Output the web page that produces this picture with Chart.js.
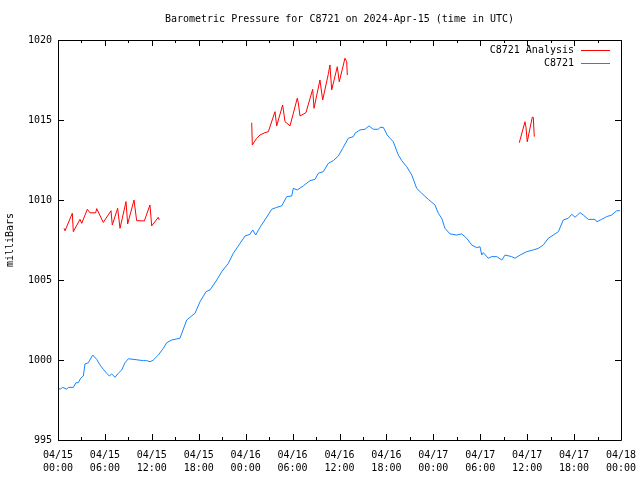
<!DOCTYPE html>
<html>
<head>
<meta charset="utf-8">
<script src="https://cdn.jsdelivr.net/npm/chart.js@4/dist/chart.umd.min.js"></script>
<style>
    html, body { margin: 0; padding: 0; background: #fff; }
    #wrap { width: 640px; height: 480px; }
</style>
</head>
<body>
<div id="wrap"><canvas id="pressureChart"></canvas></div>
<script>
// hours since 04/15 00:00 UTC
const stationHours = [0, 0.26, 0.6, 1.11, 1.32, 1.96, 2.3, 2.6, 2.9, 3.24, 3.45, 3.88, 4.44, 4.95, 5.37, 5.79,
    6.23, 6.56, 6.87, 7.29, 7.71, 8.15, 8.57, 9.0, 10.91, 11.34, 11.77, 12.19, 12.83, 13.47, 13.9, 14.54,
    15.6, 16.46, 17.52, 18.16, 18.93, 19.44, 20.3, 20.94, 21.78, 22.42, 23.28, 23.92, 24.56, 24.9, 25.28,
    25.83, 26.6, 27.33, 27.97, 28.61, 29.25, 29.89, 30.09, 30.6, 31.37, 32.23, 32.87, 33.29, 33.93, 34.57,
    35.21, 35.85, 36.41, 37.13, 37.77, 37.98, 38.62, 39.26, 39.77, 40.32, 40.96, 41.18, 41.6, 42.11, 42.46,
    42.88, 43.52, 43.96, 44.6, 45.24, 45.87, 46.51, 47.36, 48.21, 48.64, 49.07, 49.49, 50.13, 50.99, 51.63,
    52.27, 52.91, 53.55, 53.97, 54.19, 54.39, 55.03, 55.47, 56.11, 56.75, 57.17, 58.02, 58.45, 59.09, 59.94,
    60.79, 61.43, 62.07, 62.71, 63.35, 63.99, 64.62, 65.26, 65.7, 66.12, 66.76, 67.18, 67.82, 68.68, 68.9,
    69.53, 70.17, 70.81, 71.45, 71.88];
const stationPressure = [998.25, 998.17, 998.29, 998.17, 998.29, 998.29, 998.58, 998.58, 998.86, 999.0, 999.75,
    999.83, 1000.31, 1000.04, 999.69, 999.42, 999.17, 999.0, 999.13, 998.92, 999.17, 999.38, 999.83, 1000.08,
    999.96, 999.96, 999.89, 1000.0, 1000.31, 1000.73, 1001.08, 1001.25, 1001.36, 1002.5, 1002.92, 1003.64,
    1004.27, 1004.38, 1005.0, 1005.52, 1006.04, 1006.67, 1007.29, 1007.75, 1007.86, 1008.13, 1007.81, 1008.29,
    1008.86, 1009.42, 1009.54, 1009.63, 1010.21, 1010.25, 1010.73, 1010.63, 1010.88, 1011.21, 1011.29, 1011.67,
    1011.77, 1012.29, 1012.46, 1012.75, 1013.23, 1013.86, 1013.96, 1014.17, 1014.38, 1014.42, 1014.63, 1014.42,
    1014.42, 1014.54, 1014.54, 1014.06, 1013.86, 1013.64, 1012.81, 1012.46, 1012.08, 1011.56, 1010.73, 1010.42,
    1010.04, 1009.69, 1009.17, 1008.86, 1008.23, 1007.88, 1007.81, 1007.88, 1007.61, 1007.19, 1007.02, 1007.08,
    1006.56, 1006.71, 1006.36, 1006.46, 1006.46, 1006.25, 1006.56, 1006.46, 1006.36, 1006.56, 1006.77, 1006.88,
    1006.98, 1007.19, 1007.61, 1007.81, 1008.02, 1008.75, 1008.86, 1009.11, 1008.92, 1009.21, 1009.06, 1008.79,
    1008.79, 1008.64, 1008.79, 1008.96, 1009.06, 1009.33, 1009.33];

// analysis comes in three separate runs (null = gap)
const analysisHours = [0.77, 0.9, 1.83, 1.96, 2.81, 3.03, 3.75, 4.09, 4.82, 4.95, 5.79, 6.78, 6.94, 7.63, 7.93,
    8.7, 8.91, 9.72, 10.06, 11.04, 11.76, 11.98, 12.83, 12.95,
    18.0,
    24.77, 24.85, 25.41, 25.83, 26.47, 26.9, 27.75, 27.97, 28.73, 29.03, 29.67, 30.6, 30.73, 30.95, 31.71,
    32.57, 32.74, 33.5, 33.85, 34.57, 34.78, 35.0, 35.72, 35.97, 36.7, 36.92, 37.0,
    48.0,
    58.99, 59.72, 59.85, 60.01, 60.65, 60.78, 60.91];
const analysisPressure = [1008.23, 1008.08, 1009.17, 1008.02, 1008.79, 1008.54, 1009.42, 1009.2, 1009.2, 1009.46,
    1008.6, 1009.33, 1008.44, 1009.48, 1008.23, 1009.9, 1008.5, 1010.0, 1008.71, 1008.69, 1009.69, 1008.38,
    1008.92, 1008.75,
    null,
    1014.83, 1013.44, 1013.86, 1014.06, 1014.21, 1014.27, 1015.52, 1014.63, 1015.94, 1014.9, 1014.63, 1016.36,
    1016.08, 1015.25, 1015.46, 1016.92, 1015.73, 1017.5, 1016.25, 1017.88, 1018.44, 1016.88, 1018.33, 1017.39,
    1018.86, 1018.64, 1017.81,
    null,
    1013.58, 1014.89, 1014.54, 1013.64, 1015.17, 1015.17, 1013.96];

const yTicks = [995, 1000, 1005, 1010, 1015, 1020];
const xTickHours = [0, 6, 12, 18, 24, 30, 36, 42, 48, 54, 60, 66, 72];
const startDay = 15;

const FONT = '"DejaVu Sans Mono", "Liberation Mono", monospace';

function pairs(xs, ys) {
    return xs.map((x, i) => ({ x: x, y: ys[i] }));
}

function pad2(n) {
    return String(n).padStart(2, '0');
}

// frame, inward tick marks and the gnuplot-style legend
const framePlugin = {
    id: 'frame',
    afterDatasetsDraw(chart) {
        const ctx = chart.ctx;
        const a = chart.chartArea;
        const xs = chart.scales.x;
        const ys = chart.scales.y;
        ctx.save();
        ctx.strokeStyle = '#000';
        ctx.lineWidth = 1;
        ctx.beginPath();
        ctx.rect(Math.round(a.left) + 0.5, Math.round(a.top) + 0.5,
            Math.round(a.right - a.left), Math.round(a.bottom - a.top));
        for (let h = 0; h <= 72; h += 3) {
            const px = Math.round(xs.getPixelForValue(h)) + 0.5;
            const len = h % 6 === 0 ? 6 : 3;
            ctx.moveTo(px, a.bottom);
            ctx.lineTo(px, a.bottom - len);
            ctx.moveTo(px, a.top);
            ctx.lineTo(px, a.top + len);
        }
        yTicks.forEach(v => {
            const py = Math.round(ys.getPixelForValue(v)) + 0.5;
            ctx.moveTo(a.left, py);
            ctx.lineTo(a.left + 6, py);
            ctx.moveTo(a.right, py);
            ctx.lineTo(a.right - 6, py);
        });
        ctx.stroke();

        // legend
        ctx.font = '10px ' + FONT;
        ctx.textAlign = 'right';
        ctx.textBaseline = 'middle';
        chart.data.datasets.forEach((ds, i) => {
            const y = a.top + 10 + i * 13;
            ctx.fillStyle = '#000';
            ctx.fillText(ds.label, a.right - 47, y);
            ctx.strokeStyle = ds.borderColor;
            ctx.beginPath();
            ctx.moveTo(a.right - 40, Math.round(y) + 0.5);
            ctx.lineTo(a.right - 11, Math.round(y) + 0.5);
            ctx.stroke();
        });
        ctx.restore();
    }
};

document.addEventListener("DOMContentLoaded", function () {
    const ctx = document.getElementById("pressureChart");

    new Chart(ctx, {
        type: 'line',
        data: {
            datasets: [
                {
                    label: 'C8721 Analysis',
                    data: pairs(analysisHours, analysisPressure),
                    borderColor: '#ff0000',
                    borderWidth: 1,
                    pointRadius: 0,
                    tension: 0,
                    spanGaps: false
                },
                {
                    label: 'C8721',
                    data: pairs(stationHours, stationPressure),
                    borderColor: '#1484ff',
                    borderWidth: 1,
                    pointRadius: 0,
                    tension: 0
                }
            ]
        },
        options: {
            responsive: true,
            maintainAspectRatio: false,
            animation: false,
            layout: {
                padding: { left: 0, right: 19, top: 6, bottom: 0 }
            },
            plugins: {
                legend: { display: false },
                tooltip: { enabled: false },
                title: {
                    display: true,
                    fullSize: false,
                    text: 'Barometric Pressure for C8721 on 2024-Apr-15 (time in UTC)',
                    color: '#000',
                    font: { family: FONT, size: 10, weight: 'normal' },
                    padding: { top: 7, bottom: 15 }
                }
            },
            scales: {
                x: {
                    type: 'linear',
                    min: 0,
                    max: 72,
                    afterBuildTicks: s => { s.ticks = xTickHours.map(v => ({ value: v })); },
                    afterFit: s => {
                        s.height = 40;
                        s.paddingLeft = 0;
                        s.paddingRight = 0;
                    },
                    grid: { display: false, drawTicks: false },
                    border: { display: false },
                    ticks: {
                        color: '#000',
                        padding: 9,
                        maxRotation: 0,
                        autoSkip: false,
                        font: { family: FONT, size: 10, lineHeight: 1.3 },
                        callback: v => {
                            const day = startDay + Math.floor(v / 24);
                            return ['04/' + pad2(day), pad2(v % 24) + ':00'];
                        }
                    }
                },
                y: {
                    min: 995,
                    max: 1020,
                    afterBuildTicks: s => { s.ticks = yTicks.map(v => ({ value: v })); },
                    afterFit: s => {
                        s.width = 58;
                        s.paddingTop = 0;
                        s.paddingBottom = 0;
                    },
                    grid: { display: false, drawTicks: false },
                    border: { display: false },
                    ticks: {
                        color: '#000',
                        padding: 6,
                        font: { family: FONT, size: 10 },
                        callback: v => String(v)
                    },
                    title: {
                        display: true,
                        text: 'milliBars',
                        color: '#000',
                        font: { family: FONT, size: 10 },
                        padding: { top: 4, bottom: 0 }
                    }
                }
            }
        },
        plugins: [framePlugin]
    });
});
</script>
</body>
</html>
